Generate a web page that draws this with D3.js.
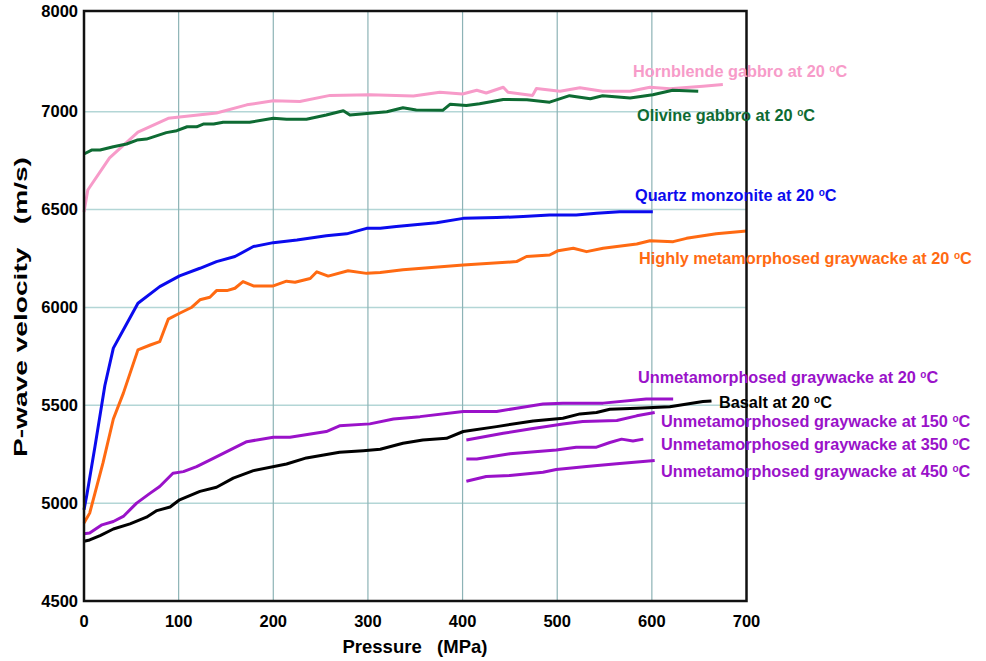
<!DOCTYPE html>
<html>
<head>
<meta charset="utf-8">
<script src="https://cdn.jsdelivr.net/npm/d3@7"></script>
<style>
  body { margin: 0; background: #fff; }
  svg text { font-family: Arial, "Liberation Sans", sans-serif; font-weight: bold; }
</style>
</head>
<body>
<div id="vis"></div>
<script>
// tick labels
var xTicks = [0, 100, 200, 300, 400, 500, 600, 700];
var yTicks = [4500, 5000, 5500, 6000, 6500, 7000, 8000];
var xGrid  = [100, 200, 300, 400, 500, 600];
var yGrid  = [5000, 5500, 6000, 6500, 7000];

// series (pressure MPa, velocity m/s)
var hornP = [0, 4, 27, 57, 89, 101, 140, 172, 200, 228, 260, 302, 348, 376, 400, 415, 425, 443, 448, 474, 478, 503, 524, 548, 577, 598, 619, 654, 675];
var hornV = [6488, 6600, 6764, 6896, 6966, 6973, 6993, 7068, 7108, 7101, 7162, 7169, 7155, 7193, 7176, 7213, 7186, 7243, 7193, 7162, 7230, 7203, 7237, 7203, 7203, 7243, 7227, 7253, 7270];

var olivP = [0, 8, 17, 31, 45, 56, 66, 87, 98, 109, 119, 126, 137, 147, 175, 200, 214, 235, 256, 274, 281, 302, 320, 337, 351, 379, 387, 404, 418, 443, 468, 492, 513, 535, 548, 577, 601, 622, 649];
var olivV = [6784, 6804, 6804, 6821, 6835, 6855, 6860, 6893, 6903, 6923, 6923, 6937, 6937, 6946, 6946, 6966, 6961, 6961, 6983, 7010, 6983, 6992, 7000, 7040, 7017, 7014, 7075, 7061, 7078, 7122, 7119, 7095, 7159, 7128, 7159, 7136, 7169, 7213, 7203];

var quartzP = [0, 3, 11.6, 22, 31, 41.5, 57, 80, 101, 122.5, 140, 159.5, 179, 200, 225, 256, 277.5, 298.6, 313, 330, 372.5, 400.7, 436, 464, 492, 520, 541.5, 566, 601];
var quartzV = [4966, 5042, 5289, 5600, 5792, 5885, 6021, 6106, 6161, 6200, 6234, 6260, 6311, 6331, 6345, 6366, 6376, 6404, 6404, 6413, 6433, 6455, 6459, 6464, 6472, 6472, 6481, 6489, 6489];

var highP = [0, 6, 11.6, 20, 31, 41.6, 57, 70, 80, 89, 101, 114, 122.5, 133, 140, 151, 159.5, 168, 179, 200, 214, 223, 239, 246, 258, 279, 298.6, 313, 337, 400.7, 457, 467.6, 492, 501, 517, 531, 548.5, 584, 598, 622.5, 636.6, 668, 700];
var highV = [4898, 4949, 5051, 5204, 5430, 5562, 5783, 5808, 5825, 5940, 5970, 6001, 6039, 6052, 6086, 6086, 6098, 6132, 6110, 6110, 6134, 6129, 6148, 6182, 6160, 6187, 6174, 6178, 6192, 6217, 6234, 6260, 6268, 6290, 6302, 6285, 6302, 6324, 6341, 6336, 6353, 6376, 6391];

var unmet20P = [0, 6, 19, 31, 41.5, 55.6, 70, 80, 94, 105, 119, 136.6, 157.7, 172, 200, 217.6, 256, 270, 302, 327, 355, 400.7, 436, 457, 485, 506, 548.5, 594, 622.5];
var unmet20V = [4844, 4847, 4889, 4906, 4932, 5000, 5051, 5085, 5153, 5161, 5187, 5229, 5280, 5314, 5337, 5337, 5366, 5395, 5405, 5430, 5442, 5468, 5468, 5485, 5506, 5511, 5511, 5532, 5532];

var basaltP = [0, 6, 17, 31, 48.6, 66, 77, 91, 101, 122.5, 140, 157.7, 179, 214, 235, 270, 295, 313, 337, 358, 383, 400.7, 436, 474.6, 506, 524, 541.5, 555.6, 584, 619, 654, 663];
var basaltV = [4805, 4812, 4834, 4868, 4894, 4928, 4962, 4980, 5017, 5060, 5081, 5128, 5166, 5200, 5231, 5260, 5268, 5275, 5306, 5323, 5331, 5366, 5391, 5420, 5434, 5456, 5463, 5480, 5485, 5493, 5519, 5522];

var unmet150P = [404, 443, 471, 506, 527, 563, 584, 603];
var unmet150V = [5323, 5357, 5379, 5404, 5417, 5422, 5446, 5463];

var unmet350P = [404, 415, 450, 499, 520, 541.5, 555.6, 568, 580, 591];
var unmet350V = [5226, 5226, 5252, 5272, 5286, 5286, 5310, 5327, 5318, 5327];

var unmet450P = [404, 425, 450, 485, 499, 531, 563, 603];
var unmet450V = [5112, 5136, 5141, 5158, 5172, 5187, 5201, 5218];

var seriesNames = [
  "Hornblende gabbro at 20 ", "Olivine gabbro at 20 ", "Quartz monzonite at 20 ",
  "Highly metamorphosed graywacke at 20 ", "Unmetamorphosed graywacke at 20 ",
  "Basalt at 20 ", "Unmetamorphosed graywacke at 150 ",
  "Unmetamorphosed graywacke at 350 ", "Unmetamorphosed graywacke at 450 "
];
var seriesColors = ["#f79bc9", "#0e6b33", "#0b0bee", "#ff6a12", "#9a12c9", "#000000", "#9a12c9", "#9a12c9", "#9a12c9"];
var seriesP = [hornP, olivP, quartzP, highP, unmet20P, basaltP, unmet150P, unmet350P, unmet450P];
var seriesV = [hornV, olivV, quartzV, highV, unmet20V, basaltV, unmet150V, unmet350V, unmet450V];

// label anchors (left x, centre y) in pixels
var labelPos = [[633, 71], [637, 115], [635, 195], [639, 258], [638, 377], [719, 402], [661, 421], [661, 444], [661, 471]];

var width = 986, height = 661;

var svg = d3.select("#vis")
  .append("svg")
  .attr("width", width)
  .attr("height", height);

var x = d3.scaleLinear().domain([0, 700]).range([84, 746.5]);
// the picture's axis gives 7000-8000 the same height as one 500 step below
var y = d3.scaleLinear().domain([4500, 7000, 8000]).range([601, 111.7, 11]);

////////// grid //////////
svg.append("g").selectAll("line")
  .data(yGrid).enter().append("line")
  .attr("x1", x(0)).attr("x2", x(700))
  .attr("y1", function (d) { return y(d); })
  .attr("y2", function (d) { return y(d); })
  .attr("stroke", "#b3d6d6").attr("stroke-width", 1.5);

svg.append("g").selectAll("line")
  .data(xGrid).enter().append("line")
  .attr("x1", function (d) { return x(d); })
  .attr("x2", function (d) { return x(d); })
  .attr("y1", y(8000)).attr("y2", y(4500))
  .attr("stroke", "#8db3b6").attr("stroke-width", 1.2);

////////// curves //////////
var line = d3.line()
  .x(function (d) { return x(d[0]); })
  .y(function (d) { return y(d[1]); });

seriesP.forEach(function (ps, i) {
  var pts = ps.map(function (p, j) { return [p, seriesV[i][j]]; });
  svg.append("path")
    .attr("d", line(pts))
    .attr("fill", "none")
    .attr("stroke", seriesColors[i])
    .attr("stroke-width", 3)
    .attr("stroke-linejoin", "round");
});

////////// frame + ticks //////////
svg.append("rect")
  .attr("x", x(0)).attr("y", y(8000))
  .attr("width", x(700) - x(0)).attr("height", y(4500) - y(8000))
  .attr("fill", "none").attr("stroke", "#111").attr("stroke-width", 2.5);

svg.append("g").selectAll("text")
  .data(yTicks).enter().append("text")
  .attr("x", 78)
  .attr("y", function (d) { return y(d); })
  .attr("dy", "0.35em")
  .attr("text-anchor", "end")
  .attr("font-size", 16.5)
  .text(function (d) { return d; });

svg.append("g").selectAll("text")
  .data(xTicks).enter().append("text")
  .attr("x", function (d) { return x(d); })
  .attr("y", 621)
  .attr("dy", "0.35em")
  .attr("text-anchor", "middle")
  .attr("font-size", 16.5)
  .text(function (d) { return d; });

svg.append("text")
  .attr("x", 415).attr("y", 647).attr("dy", "0.35em")
  .attr("text-anchor", "middle").attr("font-size", 18.5)
  .attr("xml:space", "preserve")
  .text("Pressure   (MPa)");

// the y title is drawn stretched along its length in the original
svg.append("text")
  .attr("transform", "translate(21,307) rotate(-90)")
  .attr("dy", "0.35em")
  .attr("text-anchor", "middle").attr("font-size", 18.5)
  .attr("xml:space", "preserve")
  .attr("textLength", 300)
  .attr("lengthAdjust", "spacingAndGlyphs")
  .text("P-wave velocity   (m/s)");

////////// labels //////////
seriesNames.forEach(function (name, i) {
  var t = svg.append("text")
    .attr("x", labelPos[i][0]).attr("y", labelPos[i][1])
    .attr("dy", "0.35em")
    .attr("font-size", 16.3)
    .attr("fill", seriesColors[i]);
  t.append("tspan").text(name);
  t.append("tspan").attr("font-size", 10).attr("dy", -5).text("o");
  t.append("tspan").attr("dy", 5).text("C");
});
</script>
</body>
</html>
